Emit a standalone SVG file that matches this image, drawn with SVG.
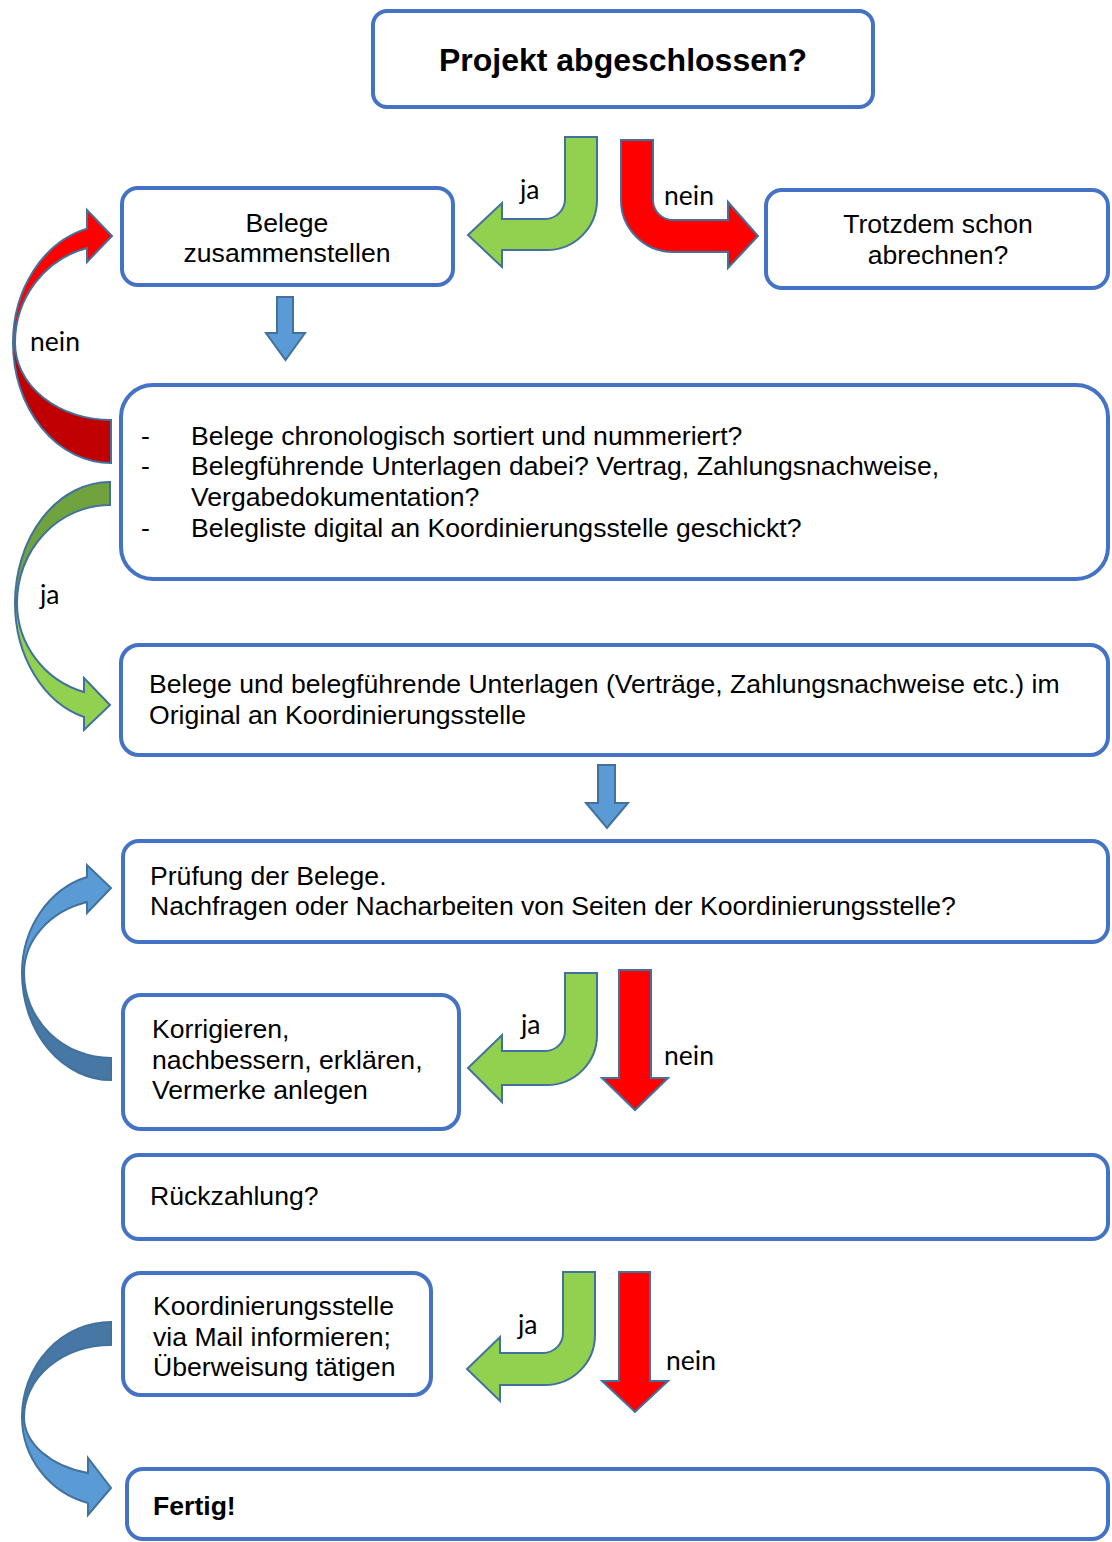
<svg xmlns="http://www.w3.org/2000/svg" width="1112" height="1542" viewBox="0 0 1112 1542">
<style>
.box{fill:#fff;stroke:#4472C4;stroke-width:4}
.t{font-family:"Liberation Sans",Arial,sans-serif;font-size:26.6px;fill:#000}
.c{text-anchor:middle}
.b{font-weight:bold}
.lbl{font-family:Lato,"Open Sans",sans-serif;font-size:26.5px;fill:#000}
.ar{stroke:#41719C;stroke-width:2;stroke-linejoin:miter}
.red{fill:#FF0000}.dred{fill:#C00000}
.grn{fill:#92D050}.dgrn{fill:#70A33E}
.blu{fill:#5B9BD5}.dblu{fill:#4677A5}
</style>
<rect width="1112" height="1542" fill="#fff"/>
<g id="connectors">
<path class="ar grn" d="M565,137 L597,137 L597,200 A50,50 0 0 1 547,250 L502,250 L502,267 L468,235 L502,203 L502,219 L545,219 A20,20 0 0 0 565,199 Z"/>
<path class="ar red" d="M621,140 L653,140 L653,200 A20,20 0 0 0 673,220 L728,220 L728,202 L758,236 L728,268 L728,252 L673,252 A52,52 0 0 1 621,200 Z"/>
<path class="ar blu" d="M277,297 L293,297 L293,333 L305,333 L285.5,360 L266,333 L277,333 Z"/>
<path class="ar dred" d="M13,343 A98,120 0 0 0 111,463 L111,420 A96,77 0 0 1 15,343 Z"/>
<path class="ar red" d="M13,343 A98,118 0 0 1 87,228.6 L87,210 L112,236 L87,262 L87,248 A96,98 0 0 0 15,343 Z"/>
<path class="ar dgrn" d="M15,603 A95,121 0 0 1 110,482 L110,505 A93,98 0 0 0 17,603 Z"/>
<path class="ar grn" d="M15,603 A95,118.5 0 0 0 84,717 L84,730 L110,705 L84,678 L84,692 A93,92.7 0 0 1 17,603 Z"/>
<path class="ar blu" d="M598,765 L615,765 L615,803 L628,803 L607,828 L586,803 L598,803 Z"/>
<path class="ar dblu" d="M22,973 A89,107 0 0 0 111,1080 L111,1058 A87,85 0 0 1 24,973 Z"/>
<path class="ar blu" d="M22,973 A89,99.7 0 0 1 87,877 L87,865 L111,888 L87,913 L87,902 A87,73.9 0 0 0 24,973 Z"/>
<path class="ar grn" d="M565,973 L597,973 L597,1035 A50,50 0 0 1 547,1085 L502,1085 L502,1102 L468,1068 L502,1035 L502,1051 L545,1051 A20,20 0 0 0 565,1031 Z"/>
<path class="ar red" d="M619,970 L651,970 L651,1078 L668,1078 L635,1110 L602,1078 L619,1078 Z"/>
<path class="ar grn" d="M563,1272 L595,1272 L595,1335 A50,50 0 0 1 545,1385 L500,1385 L500,1401 L467,1369 L500,1337 L500,1353 L543,1353 A20,20 0 0 0 563,1333 Z"/>
<path class="ar red" d="M619,1272 L650,1272 L650,1381 L668,1381 L635,1412 L602,1381 L619,1381 Z"/>
<path class="ar dblu" d="M22,1417 A89,95 0 0 1 111,1322 L111,1345 A87,72 0 0 0 24,1417 Z"/>
<path class="ar blu" d="M22,1417 A89,89 0 0 0 88,1503 L88,1515 L111,1488 L88,1458 L88,1473 A87,58 0 0 1 24,1417 Z"/>
<text class="lbl" x="520" y="199">ja</text>
<text class="lbl" x="664" y="205">nein</text>
<text class="lbl" x="30" y="351">nein</text>
<text class="lbl" x="40" y="604">ja</text>
<text class="lbl" x="521" y="1034">ja</text>
<text class="lbl" x="664" y="1065">nein</text>
<text class="lbl" x="518" y="1334">ja</text>
<text class="lbl" x="666" y="1370">nein</text>
</g>
<g id="n1"><rect class="box" x="373" y="11" width="500" height="96" rx="14"/>
<text class="t c b" x="623" y="71" style="font-size:32px">Projekt abgeschlossen?</text></g>
<g id="n2"><rect class="box" x="122" y="188" width="331" height="97" rx="16"/>
<text class="t c" x="287" y="232">Belege</text><text class="t c" x="287" y="262">zusammenstellen</text></g>
<g id="n3"><rect class="box" x="766" y="190" width="342" height="98" rx="16"/>
<text class="t c" x="938" y="233">Trotzdem schon</text><text class="t c" x="938" y="264">abrechnen?</text></g>
<g id="n4"><rect class="box" x="121" y="385" width="987" height="194" rx="32"/>
<text class="t" x="141" y="445">-</text><text class="t" x="191" y="445">Belege chronologisch sortiert und nummeriert?</text>
<text class="t" x="141" y="475">-</text><text class="t" x="191" y="475">Belegführende Unterlagen dabei? Vertrag, Zahlungsnachweise,</text>
<text class="t" x="191" y="506">Vergabedokumentation?</text>
<text class="t" x="141" y="537">-</text><text class="t" x="191" y="537">Belegliste digital an Koordinierungsstelle geschickt?</text></g>
<g id="n5"><rect class="box" x="121" y="645" width="987" height="110" rx="18"/>
<text class="t" x="149" y="693">Belege und belegführende Unterlagen (Verträge, Zahlungsnachweise etc.) im</text>
<text class="t" x="149" y="724">Original an Koordinierungsstelle</text></g>
<g id="n6"><rect class="box" x="123" y="841" width="985" height="101" rx="16"/>
<text class="t" x="150" y="885">Prüfung der Belege.</text>
<text class="t" x="150" y="915">Nachfragen oder Nacharbeiten von Seiten der Koordinierungsstelle?</text></g>
<g id="n7"><rect class="box" x="123" y="995" width="336" height="134" rx="18"/>
<text class="t" x="152" y="1038">Korrigieren,</text><text class="t" x="152" y="1069">nachbessern, erklären,</text><text class="t" x="152" y="1099">Vermerke anlegen</text></g>
<g id="n8"><rect class="box" x="123" y="1155" width="985" height="84" rx="16"/>
<text class="t" x="150" y="1205">Rückzahlung?</text></g>
<g id="n9"><rect class="box" x="123" y="1273" width="308" height="122" rx="18"/>
<text class="t" x="153" y="1315">Koordinierungsstelle</text><text class="t" x="153" y="1346">via Mail informieren;</text><text class="t" x="153" y="1376">Überweisung tätigen</text></g>
<g id="n10"><rect class="box" x="127" y="1469" width="981" height="70" rx="16"/>
<text class="t b" x="153" y="1515">Fertig!</text></g>
</svg>
